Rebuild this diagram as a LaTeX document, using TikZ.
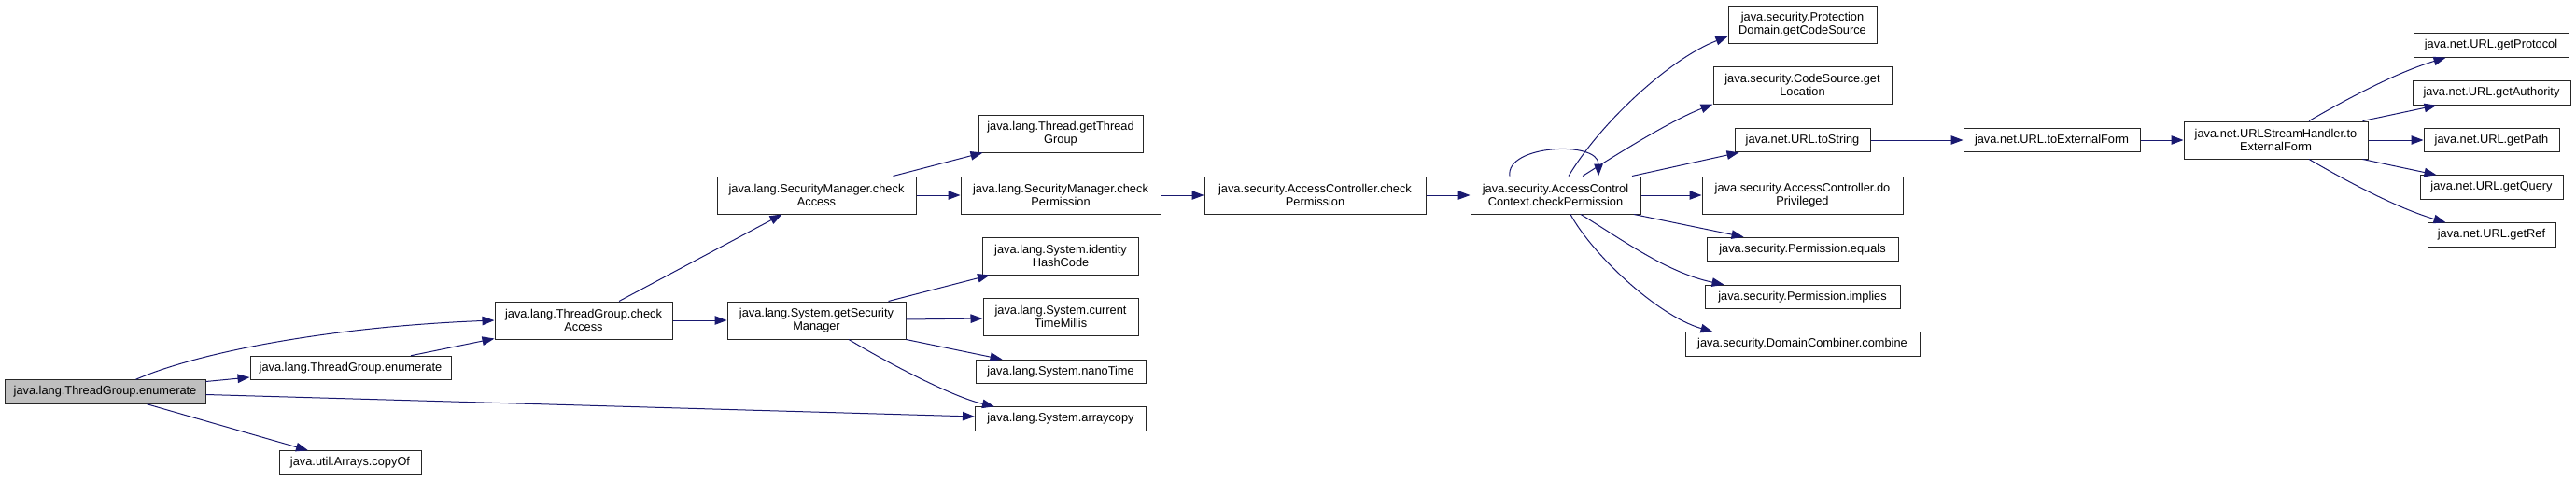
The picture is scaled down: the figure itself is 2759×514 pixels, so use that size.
\documentclass[tikz,border=0pt]{standalone}
\usepackage{fontspec}
\setmainfont{Liberation Sans}
\usetikzlibrary{arrows.meta}
\definecolor{edgeblue}{RGB}{25,25,112}
\definecolor{rootgray}{RGB}{191,191,191}
\tikzset{
  fn/.style={draw=black!85,fill=white,line width=1pt,inner sep=0pt,minimum height=25.5pt,align=center,font=\fontsize{12.8}{13.7}\selectfont},
  fntwo/.style={fn,minimum height=40pt},
  call/.style={edgeblue,line width=1pt,-{Triangle[length=13pt,width=9.5pt]}}
}
\begin{document}
\begin{tikzpicture}[x=1pt,y=1pt]
  \fill[white] (0,0) rectangle (2759,-514);
  \useasboundingbox (0,0) rectangle (2759,-514);
  \node[fn,fill=rootgray,minimum width=215pt] (root) at (112.5,-419.5) {java.lang.ThreadGroup.enumerate};
  \node[fn,minimum width=215pt] (tgEnum) at (375.5,-394) {java.lang.ThreadGroup.enumerate};
  \node[fn,minimum width=152pt] (copyOf) at (375,-495.5) {java.util.Arrays.copyOf};
  \node[fntwo,minimum width=190pt] (tgCheck) at (625,-343) {java.lang.ThreadGroup.check\\Access};
  \node[fntwo,minimum width=213pt] (smCheck) at (874.5,-209) {java.lang.SecurityManager.check\\Access};
  \node[fntwo,minimum width=191pt] (getSM) at (874.5,-343) {java.lang.System.getSecurity\\Manager};
  \node[fntwo,minimum width=176pt] (getTG) at (1136,-143) {java.lang.Thread.getThread\\Group};
  \node[fntwo,minimum width=214pt] (smPerm) at (1136,-209) {java.lang.SecurityManager.check\\Permission};
  \node[fntwo,minimum width=167pt] (identHash) at (1136,-274) {java.lang.System.identity\\HashCode};
  \node[fntwo,minimum width=166pt] (curTime) at (1136,-339) {java.lang.System.current\\TimeMillis};
  \node[fn,minimum width=182pt] (nanoTime) at (1136,-398) {java.lang.System.nanoTime};
  \node[fn,minimum width=183pt] (arraycopy) at (1136,-448.5) {java.lang.System.arraycopy};
  \node[fntwo,minimum width=237pt] (acPerm) at (1408.5,-209) {java.security.AccessController.check\\Permission};
  \node[fntwo,minimum width=182pt] (accPerm) at (1666,-209) {java.security.AccessControl\\Context.checkPermission};
  \node[fntwo,minimum width=159pt] (protDom) at (1930.5,-26) {java.security.Protection\\Domain.getCodeSource};
  \node[fntwo,minimum width=191pt] (codeSrc) at (1930.5,-91) {java.security.CodeSource.get\\Location};
  \node[fn,minimum width=145pt] (toStr) at (1930.5,-150) {java.net.URL.toString};
  \node[fntwo,minimum width=215pt] (doPriv) at (1930.5,-209) {java.security.AccessController.do\\Privileged};
  \node[fn,minimum width=205pt] (permEq) at (1930.5,-267) {java.security.Permission.equals};
  \node[fn,minimum width=209pt] (permImp) at (1930.5,-318) {java.security.Permission.implies};
  \node[fn,minimum width=251pt] (combine) at (1930.5,-368.5) {java.security.DomainCombiner.combine};
  \node[fn,minimum width=189pt] (toExt) at (2197.5,-150) {java.net.URL.toExternalForm};
  \node[fntwo,minimum width=197pt] (ushExt) at (2437.5,-150) {java.net.URLStreamHandler.to\\ExternalForm};
  \node[fn,minimum width=166pt] (getProto) at (2668,-48.5) {java.net.URL.getProtocol};
  \node[fn,minimum width=169pt] (getAuth) at (2668.5,-99.5) {java.net.URL.getAuthority};
  \node[fn,minimum width=145pt] (getPath) at (2668.5,-150) {java.net.URL.getPath};
  \node[fn,minimum width=153pt] (getQuery) at (2668.5,-200.5) {java.net.URL.getQuery};
  \node[fn,minimum width=137pt] (getRef) at (2668.5,-251.5) {java.net.URL.getRef};

  \draw[call] ([xshift=33pt]root.north) .. controls (210,-378) and (350,-350) .. (tgCheck.west);
  \draw[call] ([yshift=11pt]root.east) -- ([yshift=-10pt]tgEnum.west);
  \draw[call] ([yshift=-3pt]root.east) -- ([yshift=2.5pt]arraycopy.west);
  \draw[call] ([xshift=45pt]root.south) -- ([xshift=-45pt]copyOf.north);
  \draw[call] ([xshift=64.5pt]tgEnum.north) -- ([yshift=1pt]tgCheck.south west);
  \draw[call] ([xshift=38pt]tgCheck.north) -- ([xshift=-37pt]smCheck.south);
  \draw[call] (tgCheck.east) -- (getSM.west);
  \draw[call] ([xshift=82pt]smCheck.north) -- ([xshift=5pt]getTG.south west);
  \draw[call] (smCheck.east) -- (smPerm.west);
  \draw[call] ([xshift=77pt]getSM.north) -- ([xshift=8pt]identHash.south west);
  \draw[call] ([yshift=1pt]getSM.east) -- ([yshift=-2pt]curTime.west);
  \draw[call] (getSM.south east) -- ([xshift=29pt]nanoTime.north west);
  \draw[call] ([xshift=34.5pt]getSM.south) .. controls (950,-388) and (1020,-425) .. ([xshift=21pt]arraycopy.north west);
  \draw[call] (smPerm.east) -- (acPerm.west);
  \draw[call] (acPerm.east) -- (accPerm.west);
  \draw[call] ([xshift=-49pt]accPerm.north) .. controls (1612,-155) and (1712,-150) .. ([xshift=46pt]accPerm.north);
  \draw[call] ([xshift=14pt]accPerm.north) .. controls (1715,-130) and (1790,-62) .. ([yshift=-13pt]protDom.west);
  \draw[call] ([xshift=29pt]accPerm.north) .. controls (1735,-163) and (1790,-129) .. (codeSrc.south west);
  \draw[call] ([xshift=82pt]accPerm.north) -- ([xshift=5pt]toStr.south west);
  \draw[call] (accPerm.east) -- (doPriv.west);
  \draw[call] ([xshift=84pt]accPerm.south) -- ([xshift=40pt]permEq.north west);
  \draw[call] ([xshift=27pt]accPerm.south) .. controls (1735,-255) and (1785,-292) .. ([xshift=21pt]permImp.north west);
  \draw[call] ([xshift=16pt]accPerm.south) .. controls (1705,-272) and (1775,-338) .. ([xshift=30pt]combine.north west);
  \draw[call] (toStr.east) -- (toExt.west);
  \draw[call] (toExt.east) -- (ushExt.west);
  \draw[call] ([xshift=35.5pt]ushExt.north) .. controls (2510,-108) and (2565,-78) .. ([xshift=35pt]getProto.south west);
  \draw[call] ([xshift=93pt]ushExt.north) -- ([xshift=26pt]getAuth.south west);
  \draw[call] (ushExt.east) -- (getPath.west);
  \draw[call] ([xshift=93pt]ushExt.south) -- ([xshift=18pt]getQuery.north west);
  \draw[call] ([xshift=35.5pt]ushExt.south) .. controls (2510,-192) and (2565,-222) .. ([xshift=20pt]getRef.north west);
\end{tikzpicture}
\end{document}
